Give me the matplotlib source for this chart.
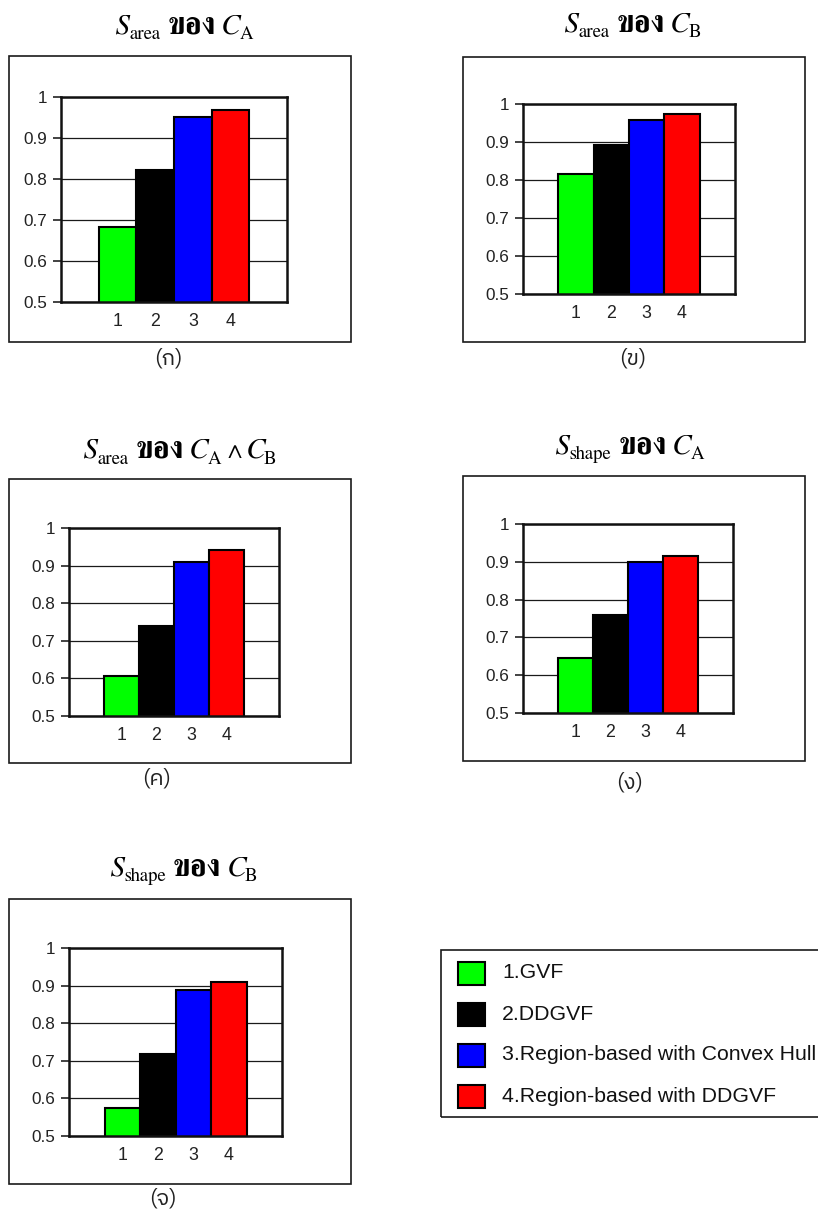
import matplotlib
matplotlib.use("Agg")
import matplotlib.pyplot as plt
from matplotlib.patches import Rectangle

# ---- data ------------------------------------------------------------
methods = ["1", "2", "3", "4"]
legend_labels = ["1.GVF", "2.DDGVF", "3.Region-based with Convex Hull",
                 "4.Region-based with DDGVF"]
bar_colors = ["#00ff00", "#000000", "#0000ff", "#ff0000"]
yticks = [0.5, 0.6, 0.7, 0.8, 0.9, 1.0]
ytick_labels = ["0.5", "0.6", "0.7", "0.8", "0.9", "1"]

s_area_ca = [0.684, 0.822, 0.952, 0.968]
s_area_cb = [0.816, 0.891, 0.958, 0.974]
s_area_cab = [0.607, 0.740, 0.910, 0.941]
s_shape_ca = [0.646, 0.759, 0.900, 0.916]
s_shape_cb = [0.574, 0.719, 0.889, 0.910]

# title pieces: (text, style)
titles = [
    [("S", "it"), ("area", "sub"), ("ของ", "thai"), ("C", "it"), ("A", "sub")],
    [("S", "it"), ("area", "sub"), ("ของ", "thai"), ("C", "it"), ("B", "sub")],
    [("S", "it"), ("area", "sub"), ("ของ", "thai"), ("C", "it"), ("A", "sub"),
     ("\u2227", "op"), ("C", "it"), ("B", "sub")],
    [("S", "it"), ("shape", "sub"), ("ของ", "thai"), ("C", "it"), ("A", "sub")],
    [("S", "it"), ("shape", "sub"), ("ของ", "thai"), ("C", "it"), ("B", "sub")],
]
captions = ["(ก)", "(ข)", "(ค)", "(ง)", "(จ)"]
series = [s_area_ca, s_area_cb, s_area_cab, s_shape_ca, s_shape_cb]

# ---- layout (pixels, origin top-left) ----------------------------------
W, H = 818, 1220
panels = [
    # plot area, outer frame, title (cx, baseline), caption (cx, cy)
    dict(plot=(61, 97, 287, 302), frame=(9, 56, 351, 342), title=(185, 33), cap=(168, 358)),
    dict(plot=(523, 104, 735, 294), frame=(463, 57, 805, 342), title=(633, 31), cap=(633, 358)),
    dict(plot=(69, 528, 279, 716), frame=(9, 479, 351, 763), title=(180, 458), cap=(157, 778)),
    dict(plot=(523, 524, 733, 713), frame=(463, 476, 805, 761), title=(630, 453), cap=(630, 783)),
    dict(plot=(69, 948, 282, 1136), frame=(9, 899, 351, 1184), title=(184, 875), cap=(163, 1198)),
]

sans = "Liberation Sans"
thai_sans = ["IBM Plex Sans Thai", "Liberation Sans"]
title_styles = {
    "it": dict(fontfamily="FreeSerif", fontstyle="italic", fontsize=21),
    "sub": dict(fontfamily="FreeSerif", fontsize=13.5),
    "thai": dict(fontfamily="FreeSerif", fontweight="bold", fontsize=22),
    "op": dict(fontfamily="FreeSerif", fontsize=18),
}
sub_drop = 6          # px below the main baseline
gaps_before = {"thai": 7, "op": 6}
gaps_after = {"thai": 6, "op": 5}


def fx(x):
    return x / W


def fy(y):
    return 1 - y / H


def ax_rect(x0, y0, x1, y1):
    return [fx(x0), fy(y1), (x1 - x0) / W, (y1 - y0) / H]


fig = plt.figure(figsize=(W / 100, H / 100), dpi=100)
fig.patch.set_facecolor("white")
renderer = fig.canvas.get_renderer()


def draw_title(parts, cx, base_y):
    placed = []
    total = 0.0
    prev = None
    for txt, kind in parts:
        gap = gaps_before.get(kind, 0) + gaps_after.get(prev, 0)
        t = fig.text(0, 0, txt, ha="left", va="baseline", color="black",
                     **title_styles[kind])
        w = t.get_window_extent(renderer).width
        placed.append((t, kind, gap, w))
        total += gap + w
        prev = kind
    x = cx - total / 2
    for t, kind, gap, w in placed:
        x += gap
        dy = sub_drop if kind == "sub" else 0
        t.set_position((fx(x), fy(base_y + dy)))
        x += w


x = list(range(1, len(methods) + 1))
for vals, title, cap, lay in zip(series, titles, captions, panels):
    # outer frame
    x0, y0, x1, y1 = lay["frame"]
    fig.patches.append(Rectangle((fx(x0), fy(y1)), (x1 - x0) / W, (y1 - y0) / H,
                                 transform=fig.transFigure, fill=False,
                                 edgecolor="#1a1a1a", linewidth=1.2, zorder=0))

    ax = fig.add_axes(ax_rect(*lay["plot"]))
    ax.bar(x, vals, width=1.0, color=bar_colors, edgecolor="black",
           linewidth=1.5, zorder=3)
    ax.set_xlim(-0.5, 5.5)
    ax.set_ylim(0.5, 1.0)
    ax.set_yticks(yticks)
    ax.set_yticklabels(ytick_labels, fontfamily=sans, fontsize=12.3, color="#222222")
    ax.set_xticks(x)
    ax.set_xticklabels(methods, fontfamily=sans, fontsize=12.8, color="#222222")
    ax.tick_params(axis="y", length=6, width=1.2, pad=4, color="#222222")
    ax.tick_params(axis="x", length=0, pad=8)
    ax.yaxis.grid(True, color="#1a1a1a", linewidth=0.9, zorder=1)
    ax.set_axisbelow(True)
    for sp in ax.spines.values():
        sp.set_linewidth(1.8)
        sp.set_color("#111111")
        sp.set_zorder(4)

    draw_title(title, *lay["title"])
    cx, cy = lay["cap"]
    fig.text(fx(cx), fy(cy), cap, ha="center", va="center",
             fontfamily=thai_sans, fontsize=16, color="#222222")

# ---- legend ------------------------------------------------------------
lx0, ly0, lx1, ly1 = 441, 950, 830, 1117
fig.patches.append(Rectangle((fx(lx0), fy(ly1)), (lx1 - lx0) / W, (ly1 - ly0) / H,
                             transform=fig.transFigure, fill=False,
                             edgecolor="#1a1a1a", linewidth=1.2))
row_y = [973, 1014, 1055, 1096]
for label, color, ry in zip(legend_labels, bar_colors, row_y):
    fig.patches.append(Rectangle((fx(458), fy(ry + 11.5)), 27 / W, 23 / H,
                                 transform=fig.transFigure, facecolor=color,
                                 edgecolor="black", linewidth=1.5))
    fig.text(fx(502), fy(ry), label, ha="left", va="center",
             fontfamily=sans, fontsize=15.3, color="#111111")

fig.savefig("out.png", dpi=100)
